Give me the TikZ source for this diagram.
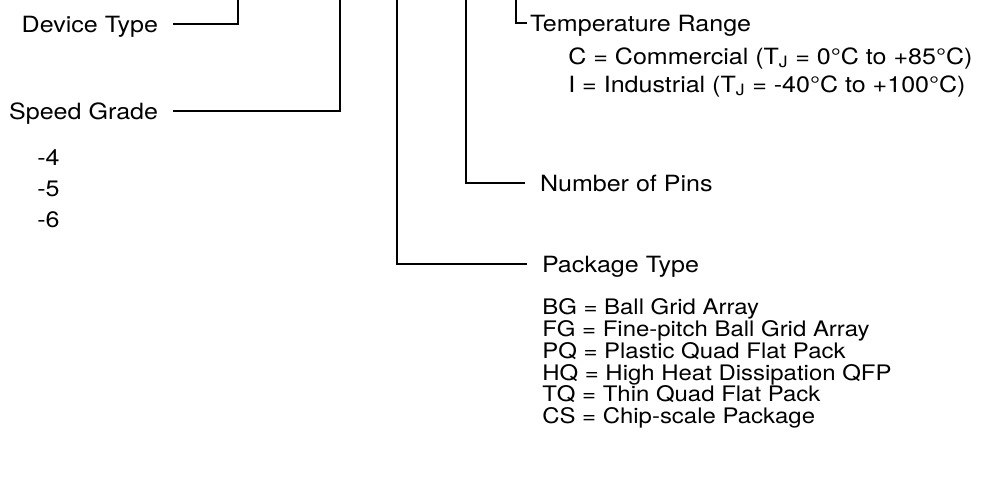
\documentclass[tikz,border=0pt]{standalone}
\usepackage{fontspec}
\setmainfont{TeX Gyre Heros}[FakeStretch=1.12]
\usepackage{tikz}
\usetikzlibrary{positioning}

\begin{document}
\begin{tikzpicture}[
  x=0.025cm, y=-0.025cm,
  node distance=0.545cm,
  lbl/.style={inner sep=0pt, text height=11.4pt, text depth=0pt, font=\fontsize{15.9}{19}\selectfont},
  keyl/.style={lbl, anchor=east, outer xsep=0.375cm},
  keyr/.style={lbl, anchor=west, outer xsep=0.375cm},
  item/.style={lbl, anchor=west},
  pkg/.style={item, text height=10.9pt, font=\fontsize{15.2}{18}\selectfont},
  conn/.style={line width=1.1pt}
]
\useasboundingbox (0,0) rectangle (983,479);

% top ends of the leads
\coordinate (tdev)  at (238,0);
\coordinate (tspd)  at (340,0);
\coordinate (tpack) at (397,0);
\coordinate (tpins) at (466,0);
\coordinate (ttemp) at (516,0);

% left side
\node[keyl] (dev) at (173,24) {Device Type};
\node[keyl] (spd) at (173,111) {Speed Grade};
\node[item] (m4) at (37,157) {-4};
\node[item, below=0.775cm of m4.west, anchor=west] (m5) {-5};
\node[item, below=0.775cm of m5.west, anchor=west] (m6) {-6};

% right side
\node[lbl, anchor=west, outer xsep=0.075cm] (temp) at (527,23) {Temperature Range};
\node[item] (com) at (568,56) {C = Commercial (T\textsubscript{J} = 0°C to +85°C)};
\node[item, below=0.7cm of com.west, anchor=west] (ind) {I = Industrial (T\textsubscript{J} = -40°C to +100°C)};
\node[keyr] (pins) at (525,183) {Number of Pins};
\node[keyr] (pack) at (527,264) {Package Type};
\node[pkg] (bg) at (542,307) {BG = Ball Grid Array};
\node[pkg, below=of bg.west, anchor=west] (fg) {FG = Fine-pitch Ball Grid Array};
\node[pkg, below=of fg.west, anchor=west] (pq) {PQ = Plastic Quad Flat Pack};
\node[pkg, below=of pq.west, anchor=west] (hq) {HQ = High Heat Dissipation QFP};
\node[pkg, below=of hq.west, anchor=west] (tq) {TQ = Thin Quad Flat Pack};
\node[pkg, below=of tq.west, anchor=west] (cs) {CS = Chip-scale Package};

\draw[conn] (dev) -- (dev -| tdev) -- (tdev);
\draw[conn] (spd) -- (spd -| tspd) -- (tspd);
\draw[conn] (tpack) -- (tpack |- pack) -- (pack);
\draw[conn] (tpins) -- (tpins |- pins) -- (pins);
\draw[conn] (ttemp) -- (ttemp |- temp) -- (temp);
\end{tikzpicture}
\end{document}
